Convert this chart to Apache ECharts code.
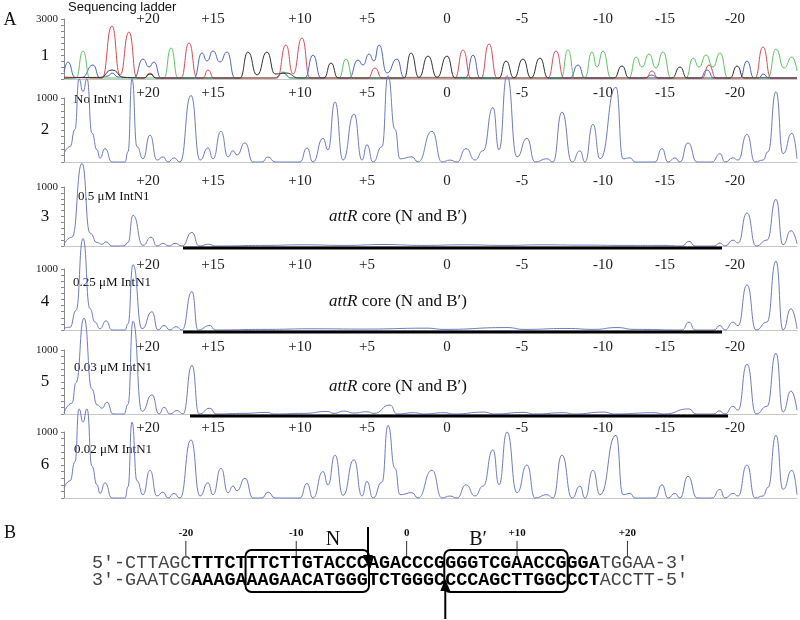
<!DOCTYPE html>
<html><head><meta charset="utf-8">
<script src="https://cdn.jsdelivr.net/npm/echarts@6/dist/echarts.min.js"></script>
<style>html,body{margin:0;padding:0;background:#fff}#c{width:800px;height:620px}</style>
</head><body><div id="c"></div>
<script>
// ---------- DATA (x = scan units, y = signal) ----------
const positionLabels = ['+20','+15','+10','+5','0','-5','-10','-15','-20'];
const positionScan   = [84,149,236,303,383,458,539,601,671];
const panelNumbers = ['1','2','3','4','5','6'];
const panelNames = ['Sequencing ladder','No IntN1','0.5 μM IntN1','0.25 μM IntN1','0.03 μM IntN1','0.02 μM IntN1'];
const axisMax = [3000,1000,1000,1000,1000,1000];

const ladderBlue = [[0,350],[4,850],[11,80],[18,80],[29,700],[36,50],[44,150],[48,300],[54,100],[70,50],[79,1000],[85,600],[90,850],[97,50],[130,50],[138,1300],[143,900],[149,1400],[156,850],[163,1350],[171,50],[210,50],[219,300],[227,50],[241,50],[249,1200],[257,50],[285,50],[294,950],[299,700],[305,1250],[310,900],[315,1700],[323,300],[333,1000],[340,80],[402,80],[409,1200],[416,50],[506,50],[514,700],[521,50],[580,50],[588,200],[594,50],[636,50],[643,450],[650,50],[676,50],[683,900],[690,50],[695,50],[699,250],[705,50],[733,50]];
const ladderGreen = [[0,30],[12,50],[19,1400],[26,50],[100,50],[107,1550],[114,50],[212,50],[219,350],[226,50],[275,50],[282,1000],[289,50],[497,50],[504,1450],[511,50],[521,80],[528,1350],[533,600],[539,1400],[547,50],[565,50],[572,1100],[578,600],[585,1250],[592,550],[599,1350],[607,50],[622,50],[629,1050],[635,600],[642,1200],[649,600],[656,1300],[664,50],[704,80],[712,1500],[720,550],[728,1100],[733,400]];
const ladderRed = [[0,100],[38,50],[48,2650],[56,200],[65,2350],[73,50],[80,50],[86,300],[92,50],[117,50],[125,1800],[133,50],[139,50],[144,450],[150,50],[213,50],[222,1700],[229,250],[238,2050],[246,50],[304,50],[311,550],[318,50],[391,50],[399,1450],[407,50],[417,50],[425,1750],[433,50],[484,50],[492,1400],[500,50],[582,50],[588,400],[594,50],[638,50],[645,700],[652,50],[691,50],[699,1600],[707,50],[733,50]];
const ladderBlack = [[0,50],[36,80],[48,450],[60,80],[80,50],[86,250],[92,50],[176,50],[184,1350],[193,200],[203,1350],[211,250],[222,300],[235,50],[260,50],[267,800],[274,50],[340,50],[347,1300],[355,80],[364,1150],[373,80],[383,1150],[391,50],[435,50],[442,900],[450,50],[459,1000],[467,50],[476,1050],[484,50],[550,50],[558,650],[565,50],[608,50],[616,600],[623,50],[666,50],[673,650],[680,50],[733,50]];

const trace2 = [[0,130],[6,240],[11,510],[15,1300],[19,1100],[23,1300],[28,450],[33,190],[36,60],[41,210],[48,0],[61,0],[64,160],[68,1300],[73,240],[79,50],[86,420],[93,30],[99,80],[104,0],[110,65],[116,0],[127,1040],[136,30],[144,220],[149,50],[157,480],[164,80],[169,175],[173,110],[181,300],[189,0],[198,0],[204,80],[211,0],[236,0],[243,220],[249,0],[259,370],[264,190],[271,940],[279,30],[290,750],[298,30],[303,270],[309,0],[318,240],[324,1350],[331,510],[336,50],[348,80],[354,0],[368,480],[378,0],[386,30],[393,0],[402,210],[411,30],[419,175],[429,850],[435,190],[443,1350],[453,80],[463,370],[471,0],[483,50],[489,0],[498,780],[508,0],[516,175],[521,0],[529,590],[536,50],[552,1170],[559,50],[566,65],[571,0],[591,0],[598,210],[604,0],[611,65],[616,0],[624,300],[633,0],[648,0],[656,130],[661,0],[669,65],[674,30],[683,430],[691,0],[699,30],[704,160],[712,1100],[719,130],[728,450],[733,50]];
const trace3 = [[0,30],[8,150],[18,1400],[26,220],[33,60],[38,30],[42,70],[48,0],[60,0],[64,60],[69,520],[79,10],[87,150],[93,0],[99,45],[105,0],[111,45],[118,0],[128,230],[135,0],[145,30],[151,0],[200,10],[240,20],[280,10],[320,25],[360,10],[400,20],[440,10],[480,20],[520,15],[560,10],[600,10],[618,0],[625,80],[631,0],[650,0],[656,50],[661,0],[669,100],[674,50],[683,560],[692,0],[703,100],[712,790],[719,20],[727,260],[733,40]];
const trace4 = [[0,30],[6,45],[12,320],[19,1500],[26,350],[31,130],[36,20],[42,150],[48,0],[61,0],[64,100],[69,1070],[78,20],[88,300],[94,0],[100,75],[106,0],[112,55],[118,0],[128,630],[134,0],[146,75],[151,0],[200,10],[250,20],[300,15],[363,30],[380,10],[443,40],[460,10],[503,25],[530,10],[553,40],[570,10],[618,0],[625,130],[631,0],[650,0],[656,75],[661,0],[669,130],[674,70],[683,740],[692,0],[703,130],[712,1130],[719,0],[727,350],[733,20]];
const trace5 = [[0,20],[8,170],[12,490],[20,1500],[28,385],[33,145],[38,90],[43,185],[49,0],[60,0],[64,150],[69,1450],[78,40],[88,300],[95,0],[100,105],[106,0],[113,55],[119,0],[128,760],[135,0],[146,90],[152,0],[180,10],[203,25],[210,0],[240,10],[263,40],[270,10],[280,45],[290,15],[303,35],[310,10],[326,140],[333,0],[350,20],[360,0],[380,20],[390,0],[420,30],[430,0],[460,25],[470,0],[500,20],[510,0],[540,30],[550,0],[590,20],[600,0],[625,80],[632,0],[650,0],[655,50],[661,0],[669,120],[674,60],[683,780],[692,0],[703,120],[712,950],[719,30],[727,360],[733,60]];
const trace6 = [[0,150],[6,260],[11,550],[15,1350],[19,1150],[23,1350],[28,480],[33,200],[36,70],[41,230],[48,0],[61,0],[64,170],[68,1150],[73,260],[79,50],[86,420],[93,30],[99,90],[104,0],[110,70],[116,0],[127,880],[136,30],[144,230],[149,50],[157,450],[164,80],[169,180],[173,110],[181,300],[189,0],[198,0],[204,90],[211,0],[236,0],[243,220],[249,0],[259,400],[264,200],[271,650],[279,40],[290,580],[298,30],[303,250],[309,0],[318,240],[324,1100],[331,450],[336,50],[348,80],[354,0],[368,420],[378,0],[386,30],[393,0],[402,200],[411,30],[419,180],[429,730],[435,200],[443,1000],[453,80],[463,500],[471,0],[483,50],[489,0],[498,650],[508,0],[516,180],[521,0],[529,420],[536,50],[552,950],[559,50],[566,70],[571,0],[591,0],[598,200],[604,0],[611,70],[616,0],[624,330],[633,0],[648,0],[656,130],[661,0],[669,70],[674,30],[683,500],[691,0],[699,30],[704,160],[712,950],[719,130],[728,420],[733,50]];

const footprint3 = [119, 658];
const footprint4 = [119, 658];
const footprint5 = [126, 664];

const seqTop    = ['5′-CTTAGC', 'TTTCTTTCTTGTACCCAGACCCGGGGTCGAACCGGGA', 'TGGAA-3′'];
const seqBottom = ['3′-GAATCG', 'AAAGAAAGAACATGGGTCTGGGCCCCAGCTTGGCCCT', 'ACCTT-5′'];
const seqMarkers = [-20, -10, 0, 10, 20];
const seqMarkerLabels = ['-20', '-10', '0', '+10', '+20'];
const boxN = [14, 25];      // character boundaries of N box
const boxB = [32, 43];      // character boundaries of B' box
const cutTop = 25, cutBottom = 32;

// ---------- LAYOUT ----------
const layout = [
  {top:19, base:79, lm:0},
  {top:98, base:162, lm:5},
  {top:187, base:246, lm:6},
  {top:269, base:330, lm:4},
  {top:350, base:414, lm:3},
  {top:432, base:498, lm:4}
];
const numY = [56,130,217,302,382,465];
const nameXY = [[68,7],[74,100],[78,197],[73,283],[74,368],[74,450]];
const ladderColors = ['#4f63c8','#5cc463','#e2474f','#333333'];
const traceColor = '#6d7cc4';
const serif = 'Liberation Serif';

const grids=[], xAxes=[], yAxes=[], series=[];
const traceSets = [[ladderBlue,ladderGreen,ladderRed,ladderBlack],[trace2],[trace3],[trace4],[trace5],[trace6]];
const footprints = [null,null,footprint3,footprint4,footprint5,null];

layout.forEach((L,i)=>{
  grids.push({left:64, right:3, top:L.top, height:L.base-L.top});
  xAxes.push({gridIndex:i, type:'value', min:0, max:733, position:'bottom',
    axisLine:{show:true, onZero:false, lineStyle:{color:'#c8c8c8', width:1}},
    axisTick:{show:false}, axisLabel:{show:false}, splitLine:{show:false}});
  xAxes.push({gridIndex:i, type:'value', min:0, max:733, position:'top',
    axisLine:{show:false}, axisTick:{show:false}, splitLine:{show:false},
    axisLabel:{show:true, customValues:positionScan, margin:L.lm, verticalAlign:'middle',
      fontFamily:serif, fontSize:15, color:'#222',
      formatter:(v)=>{const k=positionScan.indexOf(v); return k>=0?positionLabels[k]:'';}}});
  const mx = axisMax[i];
  yAxes.push({gridIndex:i, type:'value', min:0, max:mx, interval:mx/10,
    axisLine:{show:true, lineStyle:{color:'#8a8a8a', width:1}},
    axisTick:{show:true, length:3, lineStyle:{color:'#8a8a8a'}},
    splitLine:{show:false},
    axisLabel:{show:true, margin:6, fontFamily:serif, fontSize:11, color:'#222',
      formatter:(v)=> v===mx ? String(mx) : ''}});
  traceSets[i].forEach((d,j)=>{
    series.push({type:'line', xAxisIndex:2*i, yAxisIndex:i, data:d, symbol:'none', showSymbol:false,
      smooth:0.55, smoothMonotone:'x', clip:false, silent:true, animation:false,
      lineStyle:{width:1, color: i===0 ? ladderColors[j] : traceColor}});
  });
  const fp = footprints[i];
  if (fp) {
    series.push({type:'line', xAxisIndex:2*i, yAxisIndex:i, data:[[fp[0],-32],[fp[1],-32]],
      symbol:'none', clip:false, silent:true, animation:false,
      lineStyle:{width:3, color:'#000'}});
  }
});

// ---------- GRAPHICS (labels & panel B) ----------
const g = [];
g.push({type:'text', x:10, y:20, style:{text:'A', font:'18px '+serif, fill:'#111', align:'center', verticalAlign:'middle'}});
g.push({type:'text', x:10, y:533, style:{text:'B', font:'18px '+serif, fill:'#111', align:'center', verticalAlign:'middle'}});
panelNumbers.forEach((t,i)=>g.push({type:'text', x:45, y:numY[i], style:{text:t, font:'17px '+serif, fill:'#111', align:'center', verticalAlign:'middle'}}));
panelNames.forEach((t,i)=>g.push({type:'text', x:nameXY[i][0], y:nameXY[i][1], style:{text:t,
  font: i===0 ? '13px Liberation Sans' : '13px '+serif, fill:'#111', align:'left', verticalAlign:'middle'}}));
[217,302,387].forEach(y=>g.push({type:'text', x:398, y:y, style:{text:'{i|attR} core (N and B′)',
  font:'17px '+serif, fill:'#111', align:'center', verticalAlign:'middle',
  rich:{i:{fontStyle:'italic', fontFamily:serif, fontSize:17, fill:'#111'}}}}));

const seqX = 92, cw = 11.04, fs = 18.4, y1 = 563, y2 = 580;
const mono = 'Liberation Mono, DejaVu Sans Mono, monospace';
const seqRich = {r:{fontFamily:mono, fontSize:fs, fill:'#444'}, b:{fontFamily:mono, fontSize:fs, fontWeight:'bold', fill:'#000'}};
const richStr = (a)=>'{r|'+a[0]+'}{b|'+a[1]+'}{r|'+a[2]+'}';
g.push({type:'text', x:seqX, y:y1, style:{text:richStr(seqTop), rich:seqRich, align:'left', verticalAlign:'middle'}});
g.push({type:'text', x:seqX, y:y2, style:{text:richStr(seqBottom), rich:seqRich, align:'left', verticalAlign:'middle'}});
seqMarkers.forEach((p,k)=>{
  const cx = seqX + (p+28+0.5)*cw;
  g.push({type:'line', shape:{x1:cx, y1:541, x2:cx, y2:556}, style:{stroke:'#333', lineWidth:1}});
  g.push({type:'text', x:cx, y:533, style:{text:seqMarkerLabels[k], font:'bold 11px '+serif, fill:'#111', align:'center', verticalAlign:'middle'}});
});
[boxN, boxB].forEach(b=>{
  g.push({type:'rect', shape:{x:seqX+b[0]*cw-1, y:550, width:(b[1]-b[0])*cw+2, height:42, r:6},
    style:{fill:'none', stroke:'#000', lineWidth:2}});
});
g.push({type:'text', x:333, y:540, style:{text:'N', font:'20px '+serif, fill:'#111', align:'center', verticalAlign:'middle'}});
g.push({type:'text', x:478, y:540, style:{text:'B′', font:'20px '+serif, fill:'#111', align:'center', verticalAlign:'middle'}});
const ax1 = seqX + cutTop*cw, ax2 = seqX + cutBottom*cw;
g.push({type:'line', shape:{x1:ax1, y1:527, x2:ax1, y2:558}, style:{stroke:'#000', lineWidth:2}});
g.push({type:'polygon', shape:{points:[[ax1-5,555],[ax1+5,555],[ax1,567]]}, style:{fill:'#000'}});
g.push({type:'line', shape:{x1:ax2, y1:619, x2:ax2, y2:588}, style:{stroke:'#000', lineWidth:2}});
g.push({type:'polygon', shape:{points:[[ax2-5,591],[ax2+5,591],[ax2,579]]}, style:{fill:'#000'}});

const chart = echarts.init(document.getElementById('c'), null, {renderer:'canvas'});
chart.setOption({
  animation:false,
  backgroundColor:'#fff',
  grid:grids, xAxis:xAxes, yAxis:yAxes, series:series,
  graphic:{elements:g}
});
</script></body></html>
